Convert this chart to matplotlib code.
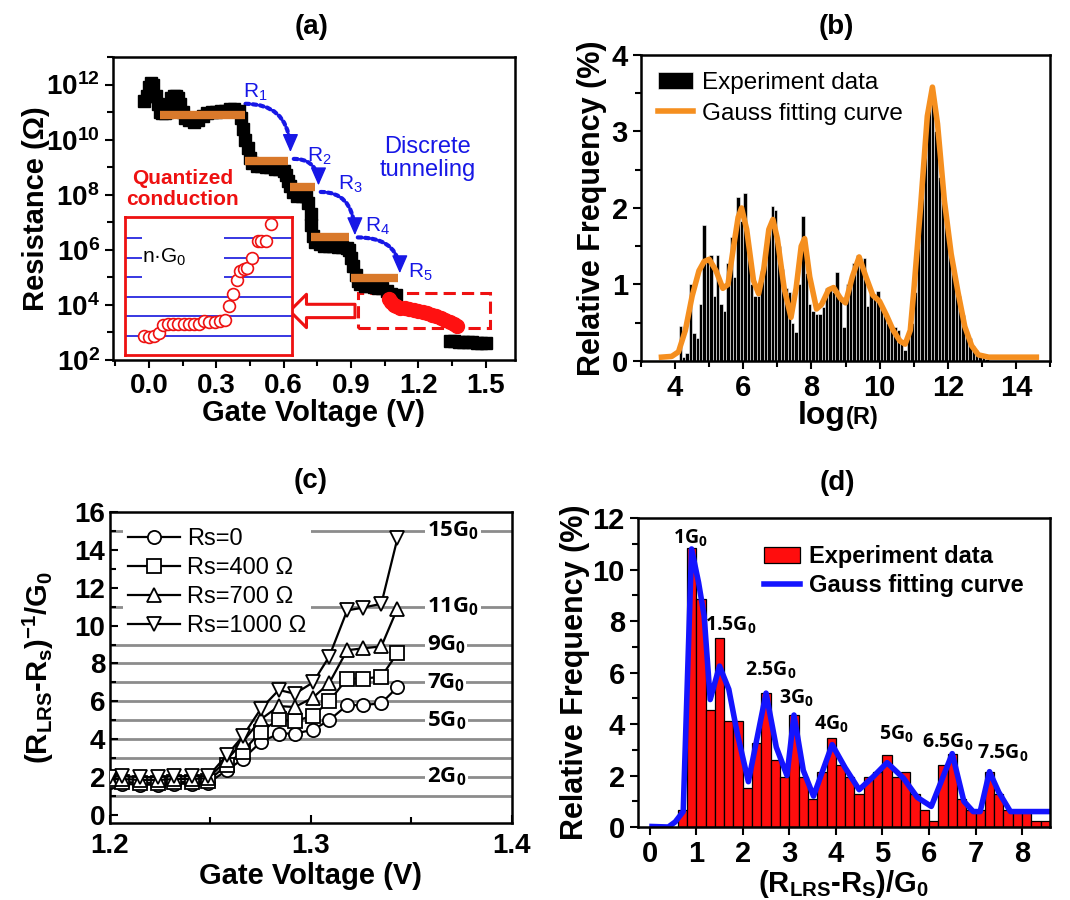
import numpy as np
import matplotlib.pyplot as plt
from matplotlib.patches import FancyArrowPatch, Rectangle
from matplotlib.ticker import MultipleLocator, FixedLocator, NullFormatter, FormatStrFormatter

plt.rcParams['font.family'] = ['Liberation Sans', 'DejaVu Sans']
plt.rcParams['font.weight'] = 'bold'
plt.rcParams['axes.labelweight'] = 'bold'
plt.rcParams['mathtext.default'] = 'regular'
plt.rcParams['axes.linewidth'] = 1.8

# ---------------- data: (a) resistance vs gate voltage ----------------
a_black_v = [-0.02, -0.01, 0.00, 0.01, 0.02, 0.03, 0.04, 0.05, 0.06, 0.07,
             0.08, 0.09, 0.10, 0.11, 0.12, 0.13, 0.14, 0.15, 0.16, 0.18,
             0.20, 0.22, 0.24, 0.26, 0.28, 0.30, 0.32, 0.34, 0.36, 0.38,
             0.40, 0.41, 0.42, 0.43, 0.44, 0.45, 0.46, 0.48, 0.50, 0.52,
             0.54, 0.56, 0.58, 0.60, 0.61, 0.62, 0.63, 0.64, 0.66, 0.68,
             0.70, 0.71, 0.72, 0.72, 0.73, 0.74, 0.76, 0.78, 0.80, 0.82,
             0.84, 0.86, 0.88, 0.89, 0.90, 0.91, 0.92, 0.93, 0.94, 0.96,
             0.98, 1.00, 1.02, 1.04, 1.06, 1.08, 1.10]
a_black_logr = [11.4, 11.6, 11.9, 12.05, 12.0, 11.6, 11.3, 11.0, 10.95, 10.95,
                11.0, 11.2, 11.5, 11.6, 11.6, 11.5, 11.3, 11.0, 10.8, 10.7,
                10.65, 10.7, 10.85, 10.95, 11.0, 11.0, 11.05, 11.05, 11.1, 11.1,
                11.05, 10.8, 10.4, 10.0, 9.7, 9.35, 9.15, 9.05, 9.05, 9.0,
                9.0, 8.95, 8.95, 8.85, 8.7, 8.5, 8.3, 8.1, 7.95, 7.95,
                7.95, 7.7, 7.3, 6.9, 6.5, 6.3, 6.2, 6.15, 6.15, 6.15,
                6.1, 6.1, 6.05, 6.0, 5.7, 5.4, 5.1, 4.85, 4.75, 4.7,
                4.7, 4.65, 4.6, 4.6, 4.5, 4.4, 4.35]
a_red_v = [1.07, 1.08, 1.09, 1.10, 1.12, 1.14, 1.16, 1.18, 1.20, 1.22,
           1.24, 1.26, 1.28, 1.30, 1.32, 1.34, 1.36, 1.37]
a_red_logr = [4.2, 4.1, 4.0, 3.95, 3.9, 3.87, 3.84, 3.82, 3.79, 3.75,
              3.7, 3.65, 3.58, 3.52, 3.45, 3.38, 3.3, 3.25]
a_tail_v = [1.34, 1.36, 1.38, 1.40, 1.42, 1.44, 1.46, 1.48, 1.50]
a_tail_logr = [2.7, 2.68, 2.66, 2.65, 2.64, 2.64, 2.63, 2.63, 2.62]
a_level_start = [0.05, 0.43, 0.63, 0.72, 0.90]
a_level_end = [0.43, 0.62, 0.74, 0.89, 1.11]
a_level_logr = [10.88, 9.22, 8.28, 6.47, 4.96]
a_r_names = ['R$_1$', 'R$_2$', 'R$_3$', 'R$_4$', 'R$_5$']
a_r_v = [0.475, 0.76, 0.895, 1.02, 1.21]
a_r_logr = [11.7, 9.4, 8.38, 6.85, 5.19]

# inset: quantized conductance steps
inset_levels = [1, 2, 3, 4, 5, 6]
inset_x = [0.113, 0.144, 0.175, 0.202, 0.227, 0.258, 0.289, 0.320, 0.351, 0.381,
           0.412, 0.443, 0.474, 0.505, 0.536, 0.567, 0.598, 0.623, 0.649, 0.670,
           0.691, 0.711, 0.732, 0.763, 0.794, 0.814, 0.845, 0.876]
inset_n = [0.95, 0.91, 1.0, 1.12, 1.52, 1.57, 1.61, 1.61, 1.61, 1.61,
           1.61, 1.61, 1.75, 1.70, 1.70, 1.75, 1.78, 2.52, 3.14, 3.87,
           4.31, 4.40, 4.48, 5.0, 5.88, 5.88, 5.88, 6.75]

# ---------------- data: (b) log(R) histogram ----------------
b_heights = [0.46, 0.05, 0.10, 1.00, 0.37, 0.30, 0.75, 1.78, 1.35, 1.38,
             0.85, 1.38, 0.75, 0.65, 1.28, 1.62, 1.10, 2.14, 1.83, 2.20,
             1.45, 1.00, 0.85, 0.85, 1.17, 1.40, 1.75, 2.02, 1.97, 1.50,
             1.20, 0.95, 0.90, 0.50, 0.38, 1.00, 1.90, 1.15, 0.75, 0.65,
             0.62, 0.62, 0.70, 0.95, 0.93, 0.90, 1.16, 0.80, 0.45, 1.00,
             1.05, 1.28, 1.38, 1.30, 1.35, 0.72, 0.88, 0.85, 0.92, 0.72,
             0.60, 0.50, 0.45, 0.45, 0.40, 0.25, 0.15, 0.30, 0.50, 0.90,
             1.50, 2.30, 2.90, 3.30, 3.50, 3.00, 2.40, 2.10, 1.90, 1.45,
             1.25, 1.00, 0.85, 0.60, 0.40, 0.30, 0.20, 0.15, 0.08, 0.05,
             0.03]
b_first_bin = 4.1
b_fit_x = [3.6, 3.9, 4.1, 4.3, 4.5, 4.7, 4.85, 5.0, 5.2, 5.4,
           5.55, 5.7, 5.85, 5.95, 6.1, 6.3, 6.45, 6.6, 6.75, 6.87,
           7.0, 7.2, 7.4, 7.55, 7.7, 7.8, 7.95, 8.15, 8.3, 8.5,
           8.65, 8.85, 9.0, 9.2, 9.4, 9.6, 9.8, 10.0, 10.2, 10.4,
           10.6, 10.75, 10.9, 11.0, 11.2, 11.4, 11.55, 11.7, 11.9, 12.1,
           12.3, 12.5, 12.7, 12.9, 13.2, 14.6]
b_fit_y = [0.05, 0.06, 0.12, 0.4, 0.85, 1.18, 1.3, 1.33, 1.18, 0.95,
           1.0, 1.45, 1.88, 2.0, 1.72, 1.05, 0.88, 1.2, 1.72, 1.85,
           1.6, 0.95, 0.57, 0.95, 1.5, 1.6, 1.1, 0.68, 0.74, 0.93,
           0.96, 0.82, 0.76, 1.1, 1.36, 1.1, 0.86, 0.78, 0.6, 0.4,
           0.26, 0.22, 0.4, 0.9, 2.0, 3.2, 3.58, 3.1, 2.1, 1.4,
           0.9, 0.45, 0.2, 0.08, 0.05, 0.05]

# ---------------- data: (c) conductance vs gate voltage ----------------
c_v = [1.200, 1.206, 1.215, 1.224, 1.232, 1.241, 1.249, 1.258, 1.266,
       1.275, 1.284, 1.292, 1.301, 1.309, 1.318, 1.326, 1.335, 1.343]
c_rs0 = [1.75, 1.65, 1.6, 1.6, 1.65, 1.65, 1.7, 2.35, 2.95,
         3.85, 4.3, 4.3, 4.5, 5.0, 5.8, 5.8, 5.9, 6.75]
c_rs400 = [1.8, 1.75, 1.7, 1.7, 1.75, 1.75, 1.8, 2.65, 3.35,
           4.4, 5.05, 4.95, 5.25, 6.0, 7.2, 7.2, 7.3, 8.55]
c_rs700 = [1.9, 1.9, 1.85, 1.85, 1.9, 1.9, 1.95, 2.9, 3.85,
           5.05, 5.75, 5.7, 6.2, 6.95, 8.7, 8.8, 8.9, 10.9]
c_rs1000 = [2.0, 2.05, 2.0, 2.0, 2.05, 2.05, 2.05, 3.15, 4.15,
            5.6, 6.6, 6.4, 7.0, 8.35, 10.8, 10.95, 11.15, 14.6]
c_series_names = ['Rs=0', 'Rs=400 Ω', 'Rs=700 Ω', 'Rs=1000 Ω']
c_levels = [1, 2, 3, 4, 5, 6, 7, 8, 9, 11, 15]
c_labelled = [2, 5, 7, 9, 11, 15]

# ---------------- data: (d) conductance histogram ----------------
d_heights = [0.67, 10.85, 8.85, 4.55, 7.35, 4.1, 4.1, 1.5, 3.25, 5.2,
             2.6, 1.95, 4.35, 1.95, 1.1, 2.15, 3.45, 2.4, 1.95, 1.3,
             1.95, 2.15, 2.8, 1.95, 2.15, 1.3, 0.65, 0.22, 2.4, 2.85,
             1.1, 0.65, 0.65, 2.15, 1.3, 0.65, 0.65, 0.65, 0.22, 0.22]
d_first_bin = 0.6
d_fit_x = [0.05, 0.4, 0.55, 0.72, 0.9, 1.05, 1.17, 1.3, 1.5, 1.7,
           1.88, 2.12, 2.5, 2.72, 2.95, 3.1, 3.3, 3.52, 3.92, 4.2,
           4.5, 4.8, 5.1, 5.45, 5.75, 6.05, 6.5, 6.75, 6.95, 7.1,
           7.3, 7.5, 7.75, 8.6]
d_fit_y = [0.02, 0.0, 0.2, 0.6, 10.8, 9.5, 8.2, 4.95, 6.25, 5.35,
           3.65, 1.76, 5.2, 3.1, 2.0, 4.35, 2.2, 1.2, 3.2, 2.3,
           1.45, 1.95, 2.5, 1.9, 1.15, 0.8, 2.85, 1.0, 0.6, 0.6,
           2.15, 1.35, 0.6, 0.6]
d_peak_names = ['1G$_0$', '1.5G$_0$', '2.5G$_0$', '3G$_0$', '4G$_0$',
                '5G$_0$', '6.5G$_0$', '7.5G$_0$']
d_peak_x = [0.87, 1.75, 2.61, 3.15, 3.9, 5.3, 6.41, 7.59]
d_peak_y = [11.2, 7.85, 6.1, 5.0, 4.0, 3.6, 3.3, 2.85]

BLUE = '#1717e6'
ORANGE_A = '#d9792b'
ORANGE_B = '#f58f1f'

fig = plt.figure(figsize=(10.7, 9.0), dpi=100)

# ======================= (a) =======================
axa = fig.add_axes([0.1056, 0.6, 0.3757, 0.3367])
axa.plot(a_black_v, 10 ** np.array(a_black_logr), 's', color='black', ms=9)
axa.plot(a_red_v, 10 ** np.array(a_red_logr), 'o', color='#ff1111', ms=10)
axa.plot(a_tail_v, 10 ** np.array(a_tail_logr), 's', color='black', ms=9)
axa.hlines(10 ** np.array(a_level_logr), a_level_start, a_level_end,
           color=ORANGE_A, lw=6, zorder=3)
axa.set_yscale('log')
axa.set_ylim(1e2, 1e13)
axa.set_xlim(-0.16, 1.63)
axa.set_yticks([10 ** k for k in range(2, 13, 2)])
axa.set_yticklabels(['10$^{%d}$' % k for k in range(2, 13, 2)])
axa.yaxis.set_minor_locator(FixedLocator([10 ** k for k in range(3, 14, 2)]))
axa.yaxis.set_minor_formatter(NullFormatter())
axa.set_xticks([0, 0.3, 0.6, 0.9, 1.2, 1.5])
axa.xaxis.set_major_formatter(FormatStrFormatter('%.1f'))
axa.xaxis.set_minor_locator(MultipleLocator(0.15))
axa.tick_params(which='both', direction='out', labelsize=20, width=1.5)
axa.tick_params(which='major', length=6)
axa.tick_params(which='minor', length=4)
axa.set_xlabel('Gate Voltage (V)', fontsize=21)
axa.set_ylabel('Resistance (Ω)', fontsize=21)
axa.xaxis.set_label_coords(0.5, -0.13)
axa.yaxis.set_label_coords(-0.157, 0.5)

# dotted arrows between discrete levels
arrow_from = [(0.43, 11.3), (0.645, 9.3), (0.765, 8.1), (0.93, 6.45)]
arrow_to = [(0.63, 9.55), (0.755, 8.34), (0.917, 6.53), (1.117, 5.15)]
for (x0, y0), (x1, y1) in zip(arrow_from, arrow_to):
    axa.add_patch(FancyArrowPatch((x0, 10 ** y0), (x1, 10 ** y1),
                                  arrowstyle='-', color=BLUE, lw=3,
                                  linestyle=(0, (0.9, 0.85)), shrinkA=0, shrinkB=6,
                                  connectionstyle='angle3,angleA=0,angleB=90'))
    axa.annotate('', xy=(x1, 10 ** y1), xytext=(x1, 10 ** (y1 + 0.35)),
                 arrowprops=dict(arrowstyle='-|>,head_length=0.8,head_width=0.35',
                                 mutation_scale=14, color=BLUE, lw=1,
                                 shrinkA=0, shrinkB=0))
for name, x, y in zip(a_r_names, a_r_v, a_r_logr):
    axa.text(x, 10 ** y, name, color=BLUE, fontsize=15, weight='normal',
             ha='center', va='center')
axa.text(1.24, 10 ** 9.3, 'Discrete\ntunneling', color=BLUE, fontsize=17,
         weight='normal', ha='center', va='center', linespacing=1.05)
axa.text(0.15, 10 ** 8.2, 'Quantized\nconduction', color='#ee1111', fontsize=15,
         ha='center', va='center', linespacing=1.1)

axa.add_patch(Rectangle((0.93, 10 ** 3.16), 0.59, 10 ** 4.43 - 10 ** 3.16,
                        fill=False, edgecolor='#ee1111', lw=2.2, ls=(0, (4, 2))))
axa.add_patch(FancyArrowPatch((0.93, 10 ** 3.78), (0.615, 10 ** 3.78),
                              arrowstyle='simple,head_length=1.0,head_width=2.0,tail_width=0.8',
                              mutation_scale=12, fc='white', ec='#ee1111', lw=2.2))

# inset
axi = fig.add_axes([0.1168, 0.6056, 0.1561, 0.1533])
for lvl in inset_levels:
    if lvl >= 4:
        axi.hlines(lvl, 0, 0.1, color='#1515dd', lw=1.2)
        axi.hlines(lvl, 0.59, 1, color='#1515dd', lw=1.2)
    else:
        axi.hlines(lvl, 0, 1, color='#1515dd', lw=1.2)
axi.plot(inset_x, inset_n, 'o', mfc='white', mec='#ee1111', ms=8.5, mew=1.2)
axi.text(0.1, 5.0, 'n·G$_0$', fontsize=15, weight='normal', va='center', ha='left')
axi.set_xlim(0, 1)
axi.set_ylim(0, 7.1)
axi.set_xticks([])
axi.set_yticks([])
for sp in axi.spines.values():
    sp.set_color('#ee1111')
    sp.set_linewidth(2)

# ======================= (b) =======================
axb = fig.add_axes([0.5991, 0.5989, 0.3822, 0.34])
b_centers = b_first_bin + 0.05 + 0.1 * np.arange(len(b_heights))
hb = axb.bar(b_centers, b_heights, width=0.1, color='black', edgecolor='white',
             linewidth=0.4, label='Experiment data')
lb, = axb.plot(b_fit_x, b_fit_y, color=ORANGE_B, lw=4, label='Gauss fitting curve')
axb.set_xlim(3, 15)
axb.set_ylim(0, 4)
axb.set_xticks([4, 6, 8, 10, 12, 14])
axb.set_yticks([0, 1, 2, 3, 4])
axb.yaxis.set_minor_locator(MultipleLocator(0.5))
axb.xaxis.set_minor_locator(MultipleLocator(1))
axb.tick_params(which='both', direction='out', labelsize=21, width=1.5)
axb.tick_params(which='major', length=6)
axb.tick_params(which='minor', length=4)
axb.set_ylabel('Relative Frequency (%)', fontsize=22)
axb.yaxis.set_label_coords(-0.083, 0.5)
axb.text(0.5, -0.205, 'log', fontsize=23, ha='right', va='baseline',
         transform=axb.transAxes)
axb.text(0.5, -0.205, '(R)', fontsize=17, ha='left', va='baseline',
         transform=axb.transAxes)
axb.legend([hb, lb], ['Experiment data', 'Gauss fitting curve'],
           loc='upper left', bbox_to_anchor=(0.0, 1.0), frameon=False,
           prop=dict(size=17.5, weight='normal'), handlelength=1.45,
           handletextpad=0.35, labelspacing=0.35, borderaxespad=0.3)

# ======================= (c) =======================
axc = fig.add_axes([0.1028, 0.0856, 0.3757, 0.3456])
for lvl in c_levels:
    axc.axhline(lvl, color='#8c8c8c', lw=2, zorder=0.5)
for lvl in c_labelled:
    axc.text(1.3575, lvl, '%dG$_0$' % lvl, family=['Open Sans', 'DejaVu Sans'],
             fontsize=16, ha='left', va='center', zorder=2,
             bbox=dict(fc='white', ec='none', pad=1.5))
for vals, mk, name in zip([c_rs0, c_rs400, c_rs700, c_rs1000], ['o', 's', '^', 'v'],
                          c_series_names):
    axc.plot(c_v, vals, '-', marker=mk, color='black', mfc='white', mec='black',
             ms=9.5, mew=1.3, lw=1.6, label=name, zorder=3)
axc.set_xlim(1.2, 1.4)
axc.set_ylim(-0.42, 16)
axc.set_xticks([1.2, 1.3, 1.4])
axc.xaxis.set_major_formatter(FormatStrFormatter('%.1f'))
axc.xaxis.set_minor_locator(MultipleLocator(0.05))
axc.set_yticks(range(0, 17, 2))
axc.yaxis.set_minor_locator(MultipleLocator(1))
axc.tick_params(which='both', direction='in', labelsize=20, width=1.5)
axc.tick_params(which='major', length=6)
axc.tick_params(which='minor', length=4)
axc.tick_params(axis='x', pad=7)
axc.set_xlabel('Gate Voltage (V)', fontsize=21)
axc.set_ylabel('(R$_{LRS}$-R$_s$)$^{-1}$/G$_0$', fontsize=21)
axc.xaxis.set_label_coords(0.5, -0.125)
axc.yaxis.set_label_coords(-0.135, 0.5)
axc.legend(loc='upper left', bbox_to_anchor=(0.033, 0.963), borderaxespad=0,
           frameon=True, facecolor='white', edgecolor='none', framealpha=1,
           prop=dict(size=17, weight='normal'), handlelength=2.2,
           handletextpad=0.3, labelspacing=0.3, borderpad=0.2)

# ======================= (d) =======================
axd = fig.add_axes([0.5963, 0.0811, 0.3850, 0.3433])
d_left = d_first_bin + 0.2 * np.arange(len(d_heights))
hd = axd.bar(d_left, d_heights, width=0.2, align='edge', color='#ff0d0d',
             edgecolor='black', linewidth=0.9, label='Experiment data')
ld, = axd.plot(d_fit_x, d_fit_y, color='#1414ff', lw=4, label='Gauss fitting curve')
for name, x, y in zip(d_peak_names, d_peak_x, d_peak_y):
    axd.text(x, y, name, family=['Open Sans', 'DejaVu Sans'], fontsize=14,
             ha='center', va='center')
axd.set_xlim(-0.25, 8.6)
axd.set_ylim(0, 12)
axd.set_xticks(range(0, 9))
axd.set_yticks(range(0, 13, 2))
axd.yaxis.set_minor_locator(MultipleLocator(1))
axd.tick_params(which='both', direction='out', labelsize=21, width=1.5)
axd.tick_params(which='major', length=6)
axd.tick_params(which='minor', length=4)
axd.set_xlabel('(R$_{LRS}$-R$_S$)/G$_0$', fontsize=21)
axd.set_ylabel('Relative Frequency (%)', fontsize=22)
axd.xaxis.set_label_coords(0.5, -0.132)
axd.yaxis.set_label_coords(-0.117, 0.5)
axd.legend([hd, ld], ['Experiment data', 'Gauss fitting curve'],
           loc='upper left', bbox_to_anchor=(0.255, 0.98), frameon=False,
           prop=dict(size=17, weight='bold'), handlelength=1.5,
           handletextpad=0.4, labelspacing=0.25)

# panel titles
fig.text(0.2916, 0.97, '(a)', fontsize=20, ha='center', va='center')
fig.text(0.782, 0.97, '(b)', fontsize=20, ha='center', va='center')
fig.text(0.29, 0.4656, '(c)', fontsize=20, ha='center', va='center')
fig.text(0.783, 0.4633, '(d)', fontsize=20, ha='center', va='center')

fig.savefig('out.png', dpi=100)
